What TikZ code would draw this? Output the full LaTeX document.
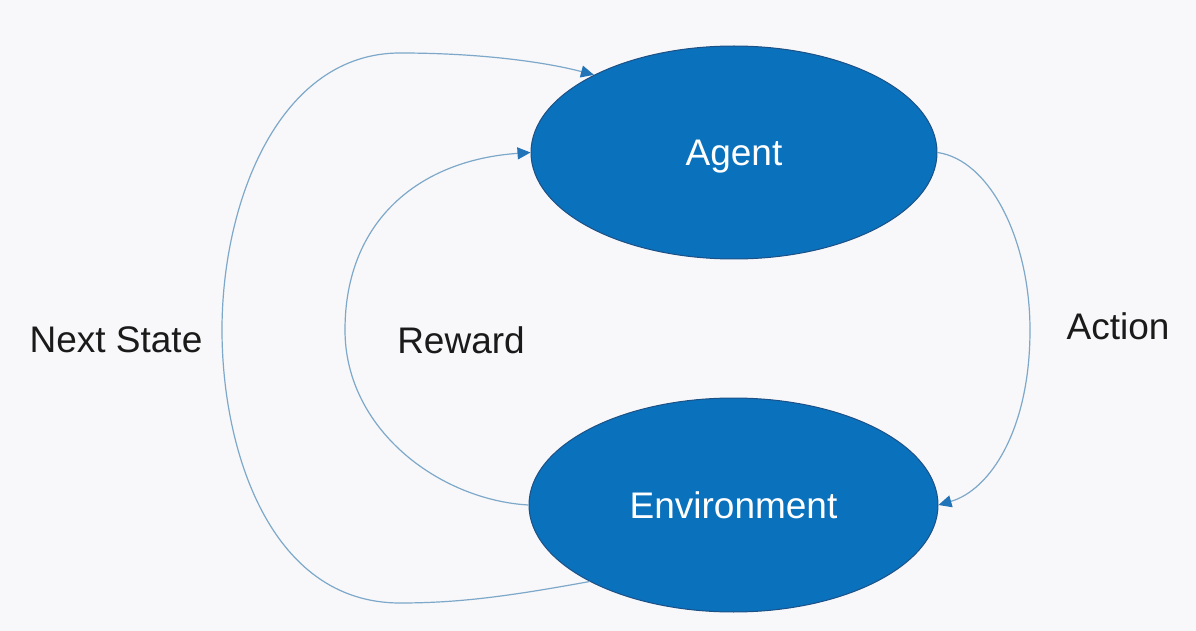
\documentclass[tikz,border=0pt]{standalone}
\usepackage{fontspec}
\setmainfont{Liberation Sans}
\usetikzlibrary{shapes.geometric,arrows.meta}

\definecolor{bgcol}{HTML}{F8F8FA}
\definecolor{blobfill}{HTML}{0A71BD}
\definecolor{blobedge}{HTML}{1D5186}
\definecolor{linkcol}{HTML}{7DA8C9}
\definecolor{tipcol}{HTML}{2174B8}
\definecolor{inkcol}{HTML}{1A1A1A}

\tikzset{
  blob/.style={ellipse, fill=blobfill, draw=blobedge, line width=0.5pt,
    inner sep=0pt, text=white, font=\fontsize{18.5}{20}\selectfont,
    text height=13.25pt, text depth=0pt},
  tag/.style={anchor=base, text=inkcol, font=\fontsize{18.5}{20}\selectfont, inner sep=0pt},
  link/.style={draw=linkcol, line width=0.6pt,
    -{Triangle[length=6.5pt,width=6pt,fill=tipcol,color=tipcol]}},
}

\begin{document}
\begin{tikzpicture}[x=0.5pt,y=-0.5pt]
  % page and background
  \fill[bgcol] (0,0) rectangle (1196,631);
  \useasboundingbox (0,0) rectangle (1196,631);

  % the two states
  \node[blob, minimum width=203pt, minimum height=106.5pt] (agent) at (734,152.5) {Agent};
  \node[blob, minimum width=204.5pt, minimum height=107pt] (env) at (733.5,505) {Environment};

  % loop labels
  \node[tag] (lnext) at (116,352) {Next State};
  \node[tag] (lreward) at (461,353) {Reward};
  \node[tag] (laction) at (1118,340) {Action};

  % agent acts on the environment
  \draw[link] (agent.east) .. controls (990,160) and (1030,240) .. (1030,330)
    .. controls (1030,430) and (990,490) .. (env.east);

  % reward fed back to the agent
  \draw[link] (env.west) .. controls (440,500) and (345,430) .. (345,330)
    .. controls (345,220) and (420,160) .. (agent.west);

  % next state fed back along the outer loop
  \draw[link] (env.208) .. controls (510,596) and (460,603) .. (400,603)
    .. controls (270,603) and (222,450) .. (222,330)
    .. controls (222,200) and (280,53) .. (400,53)
    .. controls (480,53) and (545,62) .. (agent.151);
\end{tikzpicture}
\end{document}
